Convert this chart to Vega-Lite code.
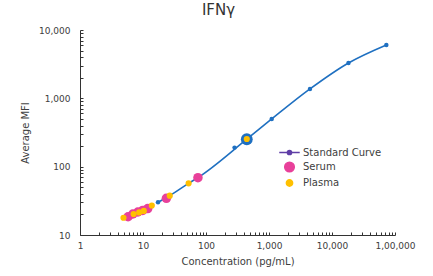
{
  "$schema": "https://vega.github.io/schema/vega-lite/v6.json",
  "width": 315,
  "height": 205,
  "autosize": {"type": "none"},
  "padding": {"left": 80, "top": 30, "right": 38, "bottom": 41},
  "background": "white",
  "config": {
    "view": {"stroke": null},
    "font": "DejaVu Sans",
    "legend": {
      "title": null, "orient": "none", "legendX": 198, "legendY": 111,
      "labelFont": "DejaVu Sans", "labelFontSize": 10, "labelColor": "#404040",
      "labelOffset": 2, "rowPadding": 1, "padding": 0, "symbolStrokeWidth": 1.6
    }
  },
  "title": {"text": "IFNγ", "fontSize": 15, "font": "DejaVu Sans", "fontWeight": "normal", "color": "#333333", "anchor": "middle", "dx": -19, "offset": 8},
  "datasets": {
    "standard": [
      {"c": 17.3, "m": 30.1},
      {"c": 284, "m": 190},
      {"c": 444, "m": 252},
      {"c": 1104, "m": 499},
      {"c": 4470, "m": 1374},
      {"c": 18250, "m": 3296},
      {"c": 72900, "m": 6050}
    ],
    "curve": [
      {"c": 17.3, "m": 30.1},
      {"c": 26.6, "m": 37.6},
      {"c": 53, "m": 57},
      {"c": 74.5, "m": 69},
      {"c": 444, "m": 252},
      {"c": 1104, "m": 499},
      {"c": 4470, "m": 1374},
      {"c": 18250, "m": 3296},
      {"c": 72900, "m": 6050}
    ],
    "highlight": [{"c": 444, "m": 252}],
    "samples": [
      {"g": "Serum", "c": 5.8, "m": 18.5},
      {"g": "Serum", "c": 6.9, "m": 20.3},
      {"g": "Serum", "c": 8.3, "m": 21.7},
      {"g": "Serum", "c": 9.9, "m": 22.9},
      {"g": "Serum", "c": 11.9, "m": 24.4},
      {"g": "Serum", "c": 23.5, "m": 34.4},
      {"g": "Serum", "c": 74.5, "m": 69},
      {"g": "Plasma", "c": 4.9, "m": 17.9},
      {"g": "Plasma", "c": 7.1, "m": 20.3},
      {"g": "Plasma", "c": 8.7, "m": 21.4},
      {"g": "Plasma", "c": 10.3, "m": 22.5},
      {"g": "Plasma", "c": 13.8, "m": 27},
      {"g": "Plasma", "c": 26.6, "m": 37.6},
      {"g": "Plasma", "c": 53, "m": 57},
      {"g": "Plasma", "c": 444, "m": 254}
    ]
  },
  "layer": [
    {
      "data": {"name": "curve"},
      "mark": {"type": "line", "interpolate": "monotone", "color": "#1f70c1", "strokeWidth": 1.6},
      "encoding": {
        "x": {
          "field": "c", "type": "quantitative",
          "scale": {"type": "log", "domain": [1, 100000]},
          "axis": {
            "title": "Concentration (pg/mL)",
            "values": [1,2,3,4,5,6,7,8,9,10,20,30,40,50,60,70,80,90,100,200,300,400,500,600,700,800,900,1000,2000,3000,4000,5000,6000,7000,8000,9000,10000,20000,30000,40000,50000,60000,70000,80000,90000,100000],
            "labelExpr": "datum.value == 100000 ? '1,00,000' : (indexof([1,10,100,1000,10000], datum.value) >= 0 ? format(datum.value, ',') : '')",
            "labelOverlap": false, "labelFlush": false,
            "grid": false, "tickSize": -3, "labelPadding": 9,
            "domainColor": "#333333", "tickColor": "#333333",
            "labelFont": "DejaVu Sans", "labelFontSize": 9, "labelColor": "#404040",
            "titleFont": "DejaVu Sans", "titleFontSize": 10, "titleFontWeight": "normal", "titleColor": "#404040", "titlePadding": 6
          }
        },
        "y": {
          "field": "m", "type": "quantitative",
          "scale": {"type": "log", "domain": [10, 10000]},
          "axis": {
            "title": "Average MFI",
            "values": [10,20,30,40,50,60,70,80,90,100,200,300,400,500,600,700,800,900,1000,2000,3000,4000,5000,6000,7000,8000,9000,10000],
            "labelExpr": "indexof([10,100,1000,10000], datum.value) >= 0 ? format(datum.value, ',') : ''",
            "labelOverlap": false, "labelFlush": false,
            "grid": false, "tickSize": -3, "labelPadding": 13,
            "domainColor": "#333333", "tickColor": "#333333",
            "labelFont": "DejaVu Sans", "labelFontSize": 9, "labelColor": "#404040",
            "titleFont": "DejaVu Sans", "titleFontSize": 10, "titleFontWeight": "normal", "titleColor": "#404040", "titlePadding": 8
          }
        }
      }
    },
    {
      "data": {"name": "standard"},
      "mark": {"type": "circle", "color": "#1f70c1", "size": 20, "opacity": 1},
      "encoding": {
        "x": {"field": "c", "type": "quantitative"},
        "y": {"field": "m", "type": "quantitative"}
      }
    },
    {
      "data": {"name": "highlight"},
      "mark": {"type": "circle", "color": "#1f70c1", "size": 140, "opacity": 1},
      "encoding": {
        "x": {"field": "c", "type": "quantitative"},
        "y": {"field": "m", "type": "quantitative"}
      }
    },
    {
      "data": {"name": "samples"},
      "mark": {"type": "point", "filled": true, "opacity": 1, "strokeWidth": 0},
      "encoding": {
        "x": {"field": "c", "type": "quantitative"},
        "y": {"field": "m", "type": "quantitative"},
        "fill": {
          "field": "g", "type": "nominal",
          "scale": {"domain": ["Standard Curve", "Serum", "Plasma"], "range": ["#5f3ea6", "#e8409a", "#ffc000"]}
        },
        "stroke": {
          "field": "g", "type": "nominal",
          "scale": {"domain": ["Standard Curve", "Serum", "Plasma"], "range": ["#5f3ea6", "#e8409a", "#ffc000"]}
        },
        "shape": {
          "field": "g", "type": "nominal",
          "scale": {"domain": ["Standard Curve", "Serum", "Plasma"], "range": ["M-1,0H1M-0.2,0A0.2,0.2,0,1,1,0.2,0A0.2,0.2,0,1,1,-0.2,0Z", "circle", "circle"]}
        },
        "size": {
          "field": "g", "type": "nominal",
          "scale": {"type": "ordinal", "domain": ["Standard Curve", "Serum", "Plasma"], "range": [420, 90, 38]}
        }
      }
    }
  ]
}
